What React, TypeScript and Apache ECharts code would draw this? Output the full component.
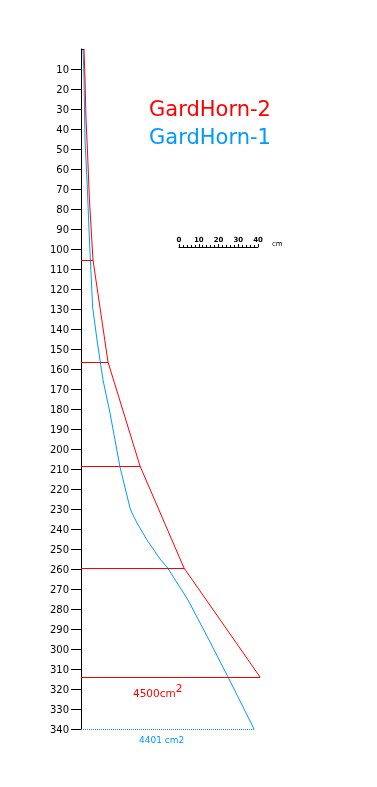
import React, { useEffect, useRef } from "react";
import * as echarts from "echarts";

// Horn profiles: depth along horn (cm, y) and half-width (cm, x)
const redDepth = [0, 15, 35, 50, 75, 105.5, 156.5, 208.5, 259.5, 314];
const redWidth = [1.5, 2, 2.5, 3.2, 4.2, 6, 13.5, 29.5, 51.5, 89.5];
const redSections = [5, 6, 7, 8, 9]; // indices of section lines

const blueDepth = [0, 14.5, 45.5, 65.5, 90.5, 112, 129, 145.5, 155.5, 165.5, 182, 209, 229.5, 232, 237, 245.5, 255, 259, 275.5, 295.5, 314, 340];
const blueWidth = [1, 1.5, 2, 3, 4, 5, 5.8, 8, 9.5, 11, 14.5, 19.5, 24.5, 25.5, 28, 33, 39.5, 43, 53.5, 64, 73.5, 86.5];

const depthTicks = [10, 20, 30, 40, 50, 60, 70, 80, 90, 100, 110, 120, 130, 140, 150, 160, 170, 180, 190, 200, 210, 220, 230, 240, 250, 260, 270, 280, 290, 300, 310, 320, 330, 340];

const redName = "GardHorn-2";
const blueName = "GardHorn-1";
const redArea = "4500cm";
const blueArea = "4401 cm2";
const scaleTicks = [0, 10, 20, 30, 40];

const RED = "#ff0000";
const BLUE = "#0099ff";
const FONT = "DejaVu Sans";

export default function App() {
  const ref = useRef<HTMLDivElement>(null);
  useEffect(() => {
    if (!ref.current) return;
    const chart = echarts.init(ref.current, null, { renderer: "svg" });
    const redData = redDepth.map((d, i) => [redWidth[i], d]);
    const blueData = blueDepth.map((d, i) => [blueWidth[i], d]);
    const lastB = blueData.length - 1;
    chart.setOption({
      animation: false,
      grid: [
        { left: 81, top: 49, width: 296, height: 680 },
        { left: 179, top: 247, width: 79, height: 10 },
      ],
      xAxis: [
        { gridIndex: 0, type: "value", min: 0, max: 148, show: false },
        {
          gridIndex: 1,
          type: "value",
          position: "top",
          min: scaleTicks[0],
          max: scaleTicks[scaleTicks.length - 1],
          interval: 10,
          axisLine: { show: true, onZero: false, lineStyle: { color: "#000", width: 1 } },
          axisTick: { show: true, length: 3, lineStyle: { color: "#000" } },
          minorTick: { show: true, splitNumber: 5, length: 2, lineStyle: { color: "#000" } },
          splitLine: { show: false },
          axisLabel: { fontSize: 7, fontWeight: "bold", color: "#000", margin: 4, fontFamily: FONT },
        },
      ],
      yAxis: [
        {
          gridIndex: 0,
          type: "value",
          inverse: true,
          min: 0,
          max: 340,
          interval: 10,
          axisLine: { show: true, lineStyle: { color: "#000", width: 1 } },
          axisTick: { show: true, length: 10, lineStyle: { color: "#000" }, customValues: depthTicks },
          splitLine: { show: false },
          axisLabel: {
            customValues: depthTicks,
            fontSize: 10,
            color: "#000",
            margin: 12,
            fontFamily: FONT,
          },
        },
        { gridIndex: 1, type: "value", show: false, min: 0, max: 1 },
      ],
      series: [
        {
          type: "line",
          name: blueName,
          data: blueData,
          symbol: "none",
          lineStyle: { color: BLUE, width: 1 },
          itemStyle: { color: BLUE },
          markLine: {
            silent: true,
            symbol: ["none", "none"],
            label: { show: false },
            lineStyle: { color: BLUE, width: 1, type: "dotted" },
            data: [[{ coord: [0, blueDepth[lastB]] }, { coord: [blueWidth[lastB], blueDepth[lastB]] }]],
          },
        },
        {
          type: "line",
          name: redName,
          data: redData,
          symbol: "none",
          lineStyle: { color: RED, width: 1 },
          itemStyle: { color: RED },
          markLine: {
            silent: true,
            symbol: ["none", "none"],
            label: { show: false },
            lineStyle: { color: RED, width: 1, type: "solid" },
            data: [
              [
                { coord: [0, 0], lineStyle: { color: "#000" } },
                { coord: [redWidth[0], 0] },
              ],
              ...redSections.map((i) => [{ coord: [0, redDepth[i]] }, { coord: [redWidth[i], redDepth[i]] }]),
            ],
          },
        },
        { type: "line", xAxisIndex: 1, yAxisIndex: 1, data: [] },
      ],
      graphic: [
        { type: "text", left: 149, top: 98, style: { text: redName, fill: RED, font: `21px '${FONT}'` } },
        { type: "text", left: 149, top: 126, style: { text: blueName, fill: BLUE, font: `21px '${FONT}'` } },
        { type: "text", left: 272, top: 240, style: { text: "cm", fill: "#000", font: `7px '${FONT}'` } },
        {
          type: "text",
          left: 133,
          top: 682,
          style: {
            text: `{a|${redArea}}{b|2}`,
            rich: {
              a: { fill: RED, fontSize: 10.5, fontFamily: FONT, lineHeight: 16, verticalAlign: "bottom" },
              b: { fill: RED, fontSize: 10.5, fontFamily: FONT, lineHeight: 10, verticalAlign: "top" },
            },
          },
        },
        { type: "text", left: 139, top: 735, style: { text: blueArea, fill: BLUE, font: `9px '${FONT}'` } },
      ],
    });
    return () => chart.dispose();
  }, []);
  return <div ref={ref} style={{ position: "fixed", left: 0, top: 0, width: 377, height: 787 }} />;
}
